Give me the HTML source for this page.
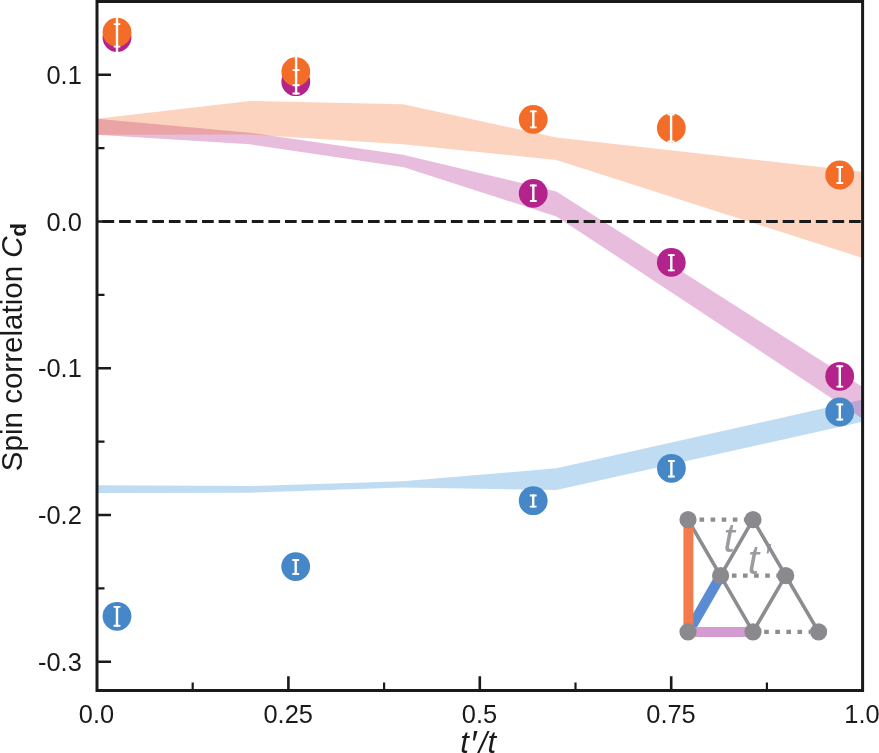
<!DOCTYPE html>
<html lang="en">
<head>
<meta charset="utf-8">
<title>Spin correlation vs t'/t</title>
<style>
  html, body { margin: 0; padding: 0; background: #ffffff; }
  body { width: 879px; height: 753px; overflow: hidden; }
  svg { display: block; will-change: transform; }
  text { font-family: "Liberation Sans", Arial, Helvetica, sans-serif; fill: #1a1a1a; }
  .tick { font-size: 25.4px; }
  .axl { font-size: 29.55px; }
  .it { font-style: italic; }
  .ins { font-size: 41px; font-style: italic; fill: #9a9ca0; }
</style>
</head>
<body>
<svg width="879" height="753" viewBox="0 0 879 753">

  <!-- theory bands -->
  <g id="bands">
    <!-- blue band -->
    <polygon fill="#2a8ad8" fill-opacity="0.3" points="97,485.3 250,486 403,481.3 556.4,468.3 862.6,399.6 862.6,421.7 556.4,490 403,487.6 250,492.7 97,493"/>
    <!-- purple band -->
    <polygon fill="#b4228c" fill-opacity="0.3" points="97,118.8 250,132.7 403,154.8 556.4,191.4 862.6,387 862.6,418.7 556.4,216.4 403,167.1 250,144.3 97,134.8"/>
    <!-- orange band -->
    <polygon fill="#f36c28" fill-opacity="0.3" points="97,118.8 250,101 403,104.3 556.4,137.6 862.6,171.7 862.6,258 556.4,160 403,144.3 250,134.5 97,134.8"/>
  </g>

  <!-- zero line -->
  <line x1="97" y1="221.5" x2="862" y2="221.5" stroke="#1a1a1a" stroke-width="3" stroke-dasharray="11.7 4.89" stroke-dashoffset="11.09"/>

  <!-- frame -->
  <g stroke="#1a1a1a" stroke-width="3" fill="none">
    <rect x="97" y="1.5" width="765.6" height="689"/>
  </g>

  <!-- ticks -->
  <g stroke="#1a1a1a" stroke-width="2.6" fill="none" id="ticks">
    <!-- y major -->
    <path d="M97,74.75H111 M97,221.5H111 M97,368.25H111 M97,515H111 M97,661.75H111"/>
    <!-- y minor -->
    <path d="M97,148.1H104.5 M97,294.9H104.5 M97,441.6H104.5 M97,588.4H104.5" stroke-width="2.2"/>
    <!-- x major -->
    <path d="M288.4,690V676.3 M479.8,690V676.3 M671.2,690V676.3"/>
    <!-- x minor -->
    <path d="M192.7,690V682.6 M384.1,690V682.6 M575.5,690V682.6 M766.9,690V682.6" stroke-width="2.2"/>
  </g>

  <!-- y tick labels -->
  <g class="tick" text-anchor="end">
    <text x="81.8" y="83.9">0.1</text>
    <text x="81.8" y="230.7">0.0</text>
    <text x="81.8" y="377.2">-0.1</text>
    <text x="81.8" y="524">-0.2</text>
    <text x="81.8" y="670.8">-0.3</text>
  </g>
  <!-- x tick labels -->
  <g class="tick" text-anchor="middle">
    <text x="96.5" y="723.4">0.0</text>
    <text x="288.2" y="723.4">0.25</text>
    <text x="479.5" y="723.4">0.5</text>
    <text x="671" y="723.4">0.75</text>
    <text x="862" y="723.4">1.0</text>
  </g>

  <!-- axis labels -->
  <text class="axl" text-anchor="start" transform="translate(22.2,471.2) rotate(-90)">Spin correlation <tspan class="it">C</tspan><tspan font-weight="bold" font-size="22.5px" dy="4" dx="-0.5">d</tspan></text>
  <text class="it" font-size="31" y="753"><tspan x="460.3">t</tspan><tspan x="469.7" y="756.5" font-size="36">′</tspan><tspan x="478.65" y="753" font-size="30">/</tspan><tspan x="487.5" y="753">t</tspan></text>

  <!-- markers -->
  <g id="markers">
    <g fill="#b4228c">
      <circle cx="117" cy="37.6" r="14.4"/>
      <circle cx="295.8" cy="81.7" r="14.4"/>
      <circle cx="533.2" cy="193.4" r="14.4"/>
      <circle cx="671.3" cy="262.4" r="14.4"/>
      <circle cx="839.7" cy="376.3" r="14.4"/>
    </g>
    <g fill="#f36c28">
      <circle cx="117" cy="32.2" r="14.4"/>
      <circle cx="295.8" cy="71.7" r="14.4"/>
      <circle cx="533.2" cy="119.4" r="14.4"/>
      <circle cx="671.3" cy="128" r="14.4"/>
      <circle cx="839.7" cy="175" r="14.4"/>
    </g>
    <g fill="#4687c8">
      <circle cx="117" cy="616.3" r="14.4"/>
      <circle cx="295.7" cy="566.6" r="14.4"/>
      <circle cx="533.2" cy="500.7" r="14.4"/>
      <circle cx="671.4" cy="468.3" r="14.4"/>
      <circle cx="839.7" cy="412" r="14.4"/>
    </g>
  </g>

  <!-- error bars (white) -->
  <g stroke="#ffffff" fill="none" id="errs">
    <path stroke-width="2.4" d="M533.3,110.4V128.3 M533.3,184.6V201.9 M533.2,494.6V507.6 M671.1,113.5V142.4 M671.3,254.2V271.3 M671.4,460.0V477.4 M839.8,166.0V184.0 M839.8,365.3V387.6 M839.8,403.5V420.5 M117.0,605.9V626.7 M295.7,559.1V575.0 M117,17.5V52 M296.1,57V94.4"/>
    <path stroke-width="1.9" d="M529.9,111.35H536.7 M529.9,127.35H536.7 M529.9,185.55H536.7 M529.9,200.95H536.7 M529.8,495.55H536.6 M529.8,506.65H536.6 M667.7,114.45H674.5 M667.7,141.45H674.5 M667.9,255.15H674.7 M667.9,270.35H674.7 M668.0,460.95H674.8 M668.0,476.45H674.8 M836.4,166.95H843.2 M836.4,183.05H843.2 M836.4,366.25H843.2 M836.4,386.65H843.2 M836.4,404.45H843.2 M836.4,419.55H843.2 M113.6,606.85H120.4 M113.6,625.75H120.4 M292.3,560.05H299.1 M292.3,574.05H299.1 M113.7,24.1H120.3 M113.7,46.6H120.3 M292.6,70.1H299.6 M292.6,85.2H299.6 M292.6,93.5H299.6"/>
  </g>

  <!-- inset lattice -->
  <g id="inset">
    <text class="ins" x="723.6" y="552.3">t</text>
    <text class="ins" x="747.8" y="574.2">t<tspan dx="4.4" dy="-4.5" font-size="36">′</tspan></text>
    <g stroke="#8d8d91" stroke-width="3.6" fill="none" stroke-linecap="butt">
      <path d="M688,519.7L753,631.8 M753,519.7L720.6,575.7 M753,519.7L818.6,631.9 M785.7,575.7L753,631.8"/>
    </g>
    <g stroke="#8d8d91" stroke-width="4.2" fill="none" stroke-dasharray="4.6 6.5">
      <path d="M699.5,519.7H745 M731.9,575.7H778 M764.2,631.9H810"/>
    </g>
    <line x1="720.8" y1="575.6" x2="688.4" y2="632" stroke="#5b8bd2" stroke-width="10.2"/>
    <line x1="688.4" y1="519.7" x2="688.4" y2="632" stroke="#f37b4c" stroke-width="10"/>
    <line x1="688.3" y1="632" x2="753" y2="632" stroke="#d39bd1" stroke-width="10.2"/>
    <g fill="#8a8a8e">
      <circle cx="688" cy="519.7" r="8.6"/>
      <circle cx="753" cy="519.7" r="8.6"/>
      <circle cx="720.6" cy="575.7" r="8.6"/>
      <circle cx="785.7" cy="575.7" r="8.6"/>
      <circle cx="688" cy="631.8" r="8.6"/>
      <circle cx="753" cy="631.8" r="8.6"/>
      <circle cx="818.6" cy="631.9" r="8.6"/>
    </g>
  </g>
</svg>
</body>
</html>
